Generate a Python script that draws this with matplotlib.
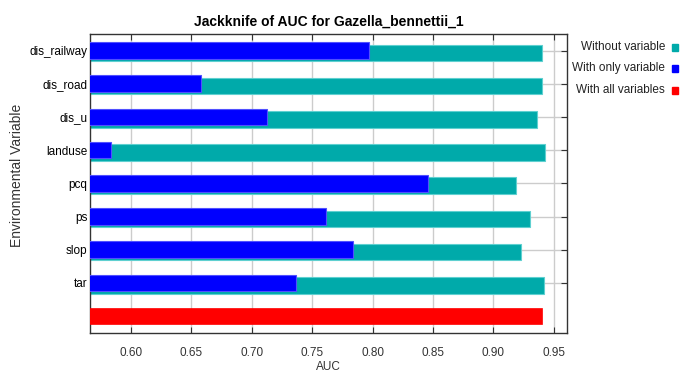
import matplotlib
matplotlib.use("Agg")
import matplotlib.pyplot as plt
from matplotlib.patches import Rectangle
from matplotlib import font_manager

# Jackknife test results (AUC) for each environmental variable
variables = ["dis_railway", "dis_road", "dis_u", "landuse", "pcq", "ps", "slop", "tar"]
auc_without = [0.9402, 0.9402, 0.9361, 0.9425, 0.9184, 0.9306, 0.9226, 0.9419]
auc_only = [0.7974, 0.6577, 0.7127, 0.5834, 0.8460, 0.7613, 0.7839, 0.7362]
auc_all = 0.9402
xticks = [0.60, 0.65, 0.70, 0.75, 0.80, 0.85, 0.90, 0.95]

names = {f.name for f in font_manager.fontManager.ttflist}
family = ["Liberation Sans Narrow", "Liberation Sans", "DejaVu Sans"] if "Liberation Sans Narrow" in names \
    else ["Liberation Sans", "DejaVu Sans"]
plt.rcParams["font.family"] = family

TEAL = "#00aaaa"
BLUE = "#0000ff"
RED = "#ff0000"

fig = plt.figure(figsize=(6.83, 3.77), dpi=100)
ax = fig.add_axes([0.1318, 0.1175, 0.8302 - 0.1318, 0.9098 - 0.1175])

n = len(variables)
pos = list(range(n))
h = 0.5
# "without" bars sit slightly lower than "with only" bars
ax.barh([p + 0.07 for p in pos], auc_without, height=h, left=0, color=TEAL,
        edgecolor="#5fd0d0", linewidth=0.8, zorder=2)
ax.barh(pos, auc_only, height=h, left=0, color=BLUE,
        edgecolor="#5050ff", linewidth=0.8, zorder=3)
ax.barh([n], [auc_all], height=h, left=0, color=RED, edgecolor=RED,
        linewidth=0.5, zorder=3)

ax.set_xlim(0.566, 0.961)
ax.set_ylim(n + 0.5, -0.5)
ax.set_yticks(pos)
ax.set_yticklabels(variables, fontsize=8.5)
ax.set_xticks(xticks)
ax.set_xticklabels([f"{t:.2f}" for t in xticks], fontsize=8.5, color="#333333")

ax.grid(True, color="#cccccc", linewidth=1.0, zorder=0)
ax.set_axisbelow(True)
ax.tick_params(axis="x", direction="in", top=True, bottom=True, length=4,
               color="#333333", pad=10)
ax.tick_params(axis="y", direction="in", left=False, right=True, length=4,
               color="#333333", pad=2)
for s in ax.spines.values():
    s.set_color("#333333")
    s.set_linewidth(1.0)

ax.set_xlabel("AUC", fontsize=8.5, color="#333333", labelpad=2)
fig.text(17 / 683, 1 - 175 / 377, "Environmental Variable", rotation=90,
         ha="center", va="center", fontsize=10, color="#333333")
ax.set_title("Jackknife of AUC for Gazella_bennettii_1", fontsize=10,
             fontweight="bold", pad=6)

# Legend on the right: right-aligned labels followed by colour squares
legend = [("Without variable", TEAL), ("With only variable", BLUE),
          ("With all variables", RED)]
for i, (label, col) in enumerate(legend):
    y = 1 - (47 + 21.5 * i) / 377
    fig.text(665 / 683, y, label, ha="right", va="center", fontsize=8.5,
             color="#222222")
    fig.patches.append(Rectangle((672 / 683, y - 3.5 / 377), 6 / 683, 7 / 377,
                                 transform=fig.transFigure, color=col))

fig.savefig("out.png", dpi=100)
